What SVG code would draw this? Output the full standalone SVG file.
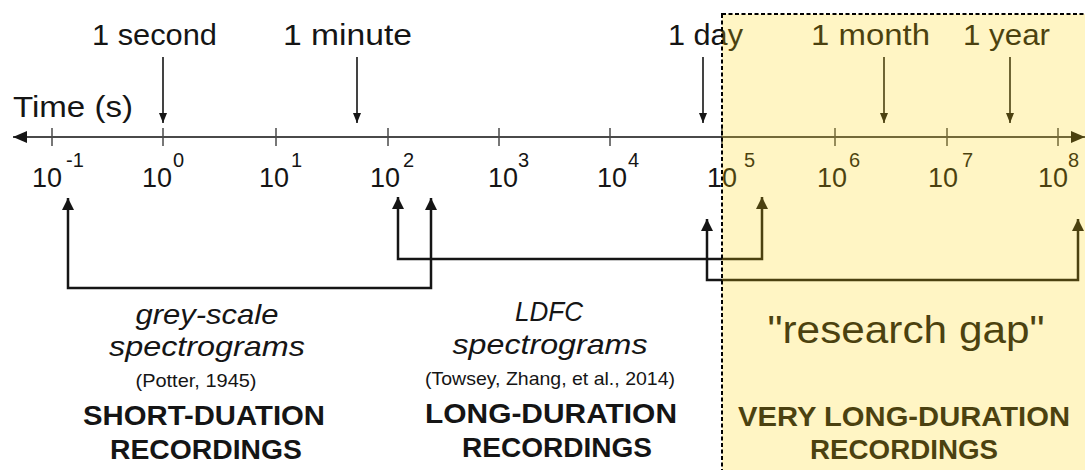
<svg xmlns="http://www.w3.org/2000/svg" width="1085" height="470" viewBox="0 0 1085 470">
<style>
text{font-family:"Liberation Sans",Arial,sans-serif;fill:#151515}
.lbl{font-size:30px}
.tk{font-size:27px}
.sup{font-size:20px}
.it{font-size:28px;font-style:italic}
.cite{font-size:19px}
.bd{font-size:27px;font-weight:bold}
.gap{font-size:38px}
.tick{stroke:#4a4a4a;stroke-width:1.5}
.down{stroke:#151515;stroke-width:1.6;fill:none;marker-end:url(#sm)}
.br{stroke:#151515;stroke-width:2.5;fill:none;marker-start:url(#bg);marker-end:url(#bg)}
</style>
<defs>
<marker id="sm" viewBox="0 0 10 8" refX="10" refY="4" markerWidth="10" markerHeight="8" markerUnits="userSpaceOnUse" orient="auto"><path d="M0,0 L10,4 L0,8 z" fill="#151515"/></marker>
<marker id="bg" viewBox="0 0 12 12" refX="12" refY="6" markerWidth="12" markerHeight="12" markerUnits="userSpaceOnUse" orient="auto-start-reverse"><path d="M0,0 L12,6 L0,12 z" fill="#151515"/></marker>
<marker id="ax" viewBox="0 0 14 12" refX="14" refY="6" markerWidth="14" markerHeight="12" markerUnits="userSpaceOnUse" orient="auto-start-reverse"><path d="M0,0 L14,6 L0,12 z" fill="#151515"/></marker>
</defs>

<g id="axis">
<line x1="13" y1="137" x2="1085" y2="137" stroke="#4a4a4a" stroke-width="2" marker-start="url(#ax)" marker-end="url(#ax)"/>
<g class="tick">
<line x1="52" y1="128" x2="52" y2="146"/>
<line x1="163" y1="128" x2="163" y2="146"/>
<line x1="276" y1="128" x2="276" y2="146"/>
<line x1="388" y1="128" x2="388" y2="146"/>
<line x1="499" y1="128" x2="499" y2="146"/>
<line x1="610" y1="128" x2="610" y2="146"/>
<line x1="722" y1="128" x2="722" y2="146"/>
<line x1="835" y1="128" x2="835" y2="146"/>
<line x1="947" y1="128" x2="947" y2="146"/>
<line x1="1058" y1="128" x2="1058" y2="146"/>
</g>
<text class="lbl" x="13" y="117" textLength="120" lengthAdjust="spacingAndGlyphs">Time (s)</text>
</g>

<g id="tick-labels">
<text class="tk" x="32" y="187">10<tspan class="sup" x="66" y="167">-1</tspan></text>
<text class="tk" x="142" y="187">10<tspan class="sup" x="173" y="167">0</tspan></text>
<text class="tk" x="259" y="187">10<tspan class="sup" x="291" y="167">1</tspan></text>
<text class="tk" x="370" y="187">10<tspan class="sup" x="403" y="167">2</tspan></text>
<text class="tk" x="488" y="187">10<tspan class="sup" x="518" y="167">3</tspan></text>
<text class="tk" x="597" y="187">10<tspan class="sup" x="628" y="167">4</tspan></text>
<text class="tk" x="707" y="187">10<tspan class="sup" x="744" y="167">5</tspan></text>
<text class="tk" x="817" y="187">10<tspan class="sup" x="849" y="167">6</tspan></text>
<text class="tk" x="928" y="187">10<tspan class="sup" x="962" y="167">7</tspan></text>
<text class="tk" x="1038" y="187">10<tspan class="sup" x="1068" y="167">8</tspan></text>
</g>

<g id="marker-second">
<text class="lbl" x="92" y="45" textLength="125" lengthAdjust="spacingAndGlyphs">1 second</text>
<line class="down" x1="163" y1="57" x2="163" y2="123"/>
</g>
<g id="marker-minute">
<text class="lbl" x="283" y="45" textLength="129" lengthAdjust="spacingAndGlyphs">1 minute</text>
<line class="down" x1="357" y1="57" x2="357" y2="123"/>
</g>
<g id="marker-day">
<text class="lbl" x="668" y="45" textLength="75" lengthAdjust="spacingAndGlyphs">1 day</text>
<line class="down" x1="703" y1="57" x2="703" y2="123"/>
</g>
<g id="marker-month">
<text class="lbl" x="811" y="45" textLength="119" lengthAdjust="spacingAndGlyphs">1 month</text>
<line class="down" x1="884" y1="57" x2="884" y2="123"/>
</g>
<g id="marker-year">
<text class="lbl" x="963" y="45" textLength="87" lengthAdjust="spacingAndGlyphs">1 year</text>
<line class="down" x1="1010" y1="57" x2="1010" y2="123"/>
</g>

<g id="connectors">
<path class="br" d="M68,198 V288 H431 V198"/>
<path class="br" d="M398,197 V259 H762 V197"/>
<path class="br" d="M707,219 V280 H1078 V219"/>
</g>

<g id="short-duration" text-anchor="middle">
<text class="it" x="207" y="324" textLength="143" lengthAdjust="spacingAndGlyphs">grey-scale</text>
<text class="it" x="207" y="356" textLength="196" lengthAdjust="spacingAndGlyphs">spectrograms</text>
<text class="cite" x="196" y="387" textLength="121" lengthAdjust="spacingAndGlyphs">(Potter, 1945)</text>
<text class="bd" x="204" y="425" textLength="242" lengthAdjust="spacingAndGlyphs">SHORT-DUATION</text>
<text class="bd" x="206" y="459" textLength="192" lengthAdjust="spacingAndGlyphs">RECORDINGS</text>
</g>

<g id="long-duration" text-anchor="middle">
<text class="it" x="549" y="321" textLength="68" lengthAdjust="spacingAndGlyphs">LDFC</text>
<text class="it" x="550" y="354" textLength="195" lengthAdjust="spacingAndGlyphs">spectrograms</text>
<text class="cite" x="550" y="385" textLength="250" lengthAdjust="spacingAndGlyphs">(Towsey, Zhang, et al., 2014)</text>
<text class="bd" x="551" y="423" textLength="252" lengthAdjust="spacingAndGlyphs">LONG-DURATION</text>
<text class="bd" x="557" y="457" textLength="190" lengthAdjust="spacingAndGlyphs">RECORDINGS</text>
</g>

<g id="very-long-duration" text-anchor="middle">
<text class="gap" x="906" y="343" textLength="277" lengthAdjust="spacingAndGlyphs">"research gap"</text>
<text class="bd" x="904" y="426" textLength="332" lengthAdjust="spacingAndGlyphs">VERY LONG-DURATION</text>
<text class="bd" x="904" y="459" textLength="188" lengthAdjust="spacingAndGlyphs">RECORDINGS</text>
</g>

<g id="research-gap-region">
<rect x="722" y="14" width="380" height="480" fill="#FFD200" fill-opacity="0.23" stroke="#000" stroke-width="2" stroke-dasharray="4,2.5"/>
</g>
</svg>
